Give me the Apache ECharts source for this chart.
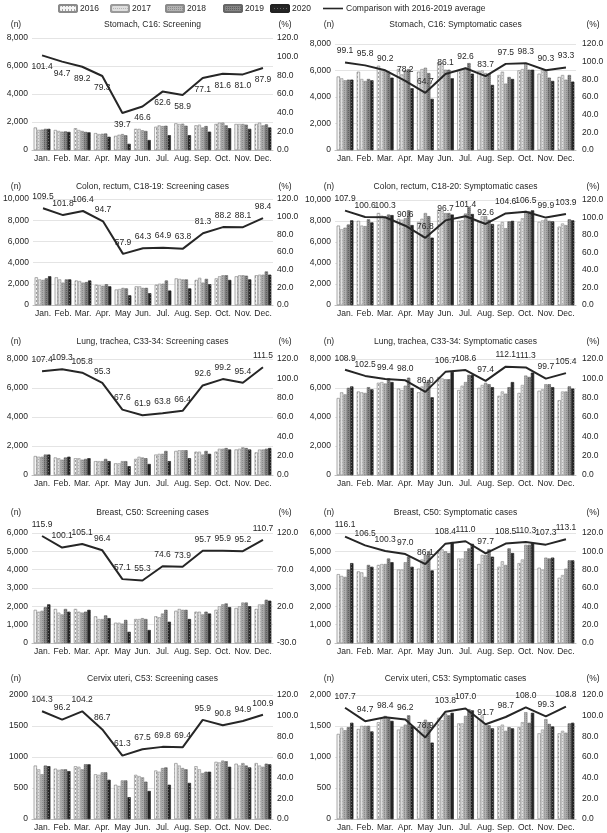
<!DOCTYPE html>
<html><head><meta charset="utf-8">
<script src="https://cdn.jsdelivr.net/npm/echarts@6/dist/echarts.min.js"></script>
<style>html,body{margin:0;padding:0;background:#fff}#c{width:607px;height:833px}</style>
</head><body><div id="c"></div>
<script>
const months = ['Jan.','Feb.','Mar.','Apr.','May','Jun.','Jul.','Aug.','Sep.','Oct.','Nov.','Dec.'];
const years = ['2016','2017','2018','2019','2020'];
const lineName = 'Comparison with 2016-2019 average';

// Stomach, C16: Screening (rows = 2016..2020)
const stomachScrBars = [
  [1600,1420,1550,1200,1000,1500,1650,1900,1750,1850,1850,1850],
  [1430,1350,1420,1130,1080,1500,1750,1850,1800,1950,1850,1950],
  [1450,1300,1350,1150,1130,1400,1700,1870,1600,1950,1850,1750],
  [1500,1320,1280,1170,1050,1350,1720,1720,1700,1750,1800,1820],
  [1500,1280,1250, 930, 430, 700,1050,1050,1300,1550,1500,1600]
];
const stomachScrPct = [101.4,94.7,89.2,79.3,39.7,46.6,62.6,58.9,77.1,81.6,81.0,87.9];

// Stomach, C16: Symptomatic cases
const stomachSymBars = [
  [5540,5900,6350,6100,5900,6600,6000,5950,5650,6000,5750,5500],
  [5400,5350,6000,5700,6100,6550,6050,6000,5900,6100,6000,5650],
  [5250,5200,6000,6000,6200,6050,6200,5800,5000,6500,5950,5300],
  [5300,5350,5900,6100,5800,6050,6550,5750,5500,6050,5450,5650],
  [5300,5250,5450,4650,3850,5400,5750,4900,5350,6050,5200,5150]
];
const stomachSymPct = [99.1,95.8,90.2,78.2,64.7,86.1,92.6,83.7,97.5,98.3,90.3,93.3];

// Colon, rectum, C18-19: Screening cases
const colonScrBars = [
  [2600,2600,2300,1900,1450,1750,1900,2500,2350,2500,2700,2800],
  [2400,2400,2250,1850,1500,1750,2000,2450,2550,2700,2800,2850],
  [2350,2100,2100,1800,1600,1600,2000,2400,2100,2800,2800,2850],
  [2500,2400,2150,1950,1550,1600,2300,2400,2450,2800,2750,3150],
  [2700,2400,2300,1750, 900,1100,1350,1550,1950,2350,2400,2850]
];
const colonScrPct = [109.5,101.8,106.4,94.7,57.9,64.3,64.9,63.8,81.3,88.2,88.1,98.4];

// Colon, rectum, C18-20: Symptomatic cases
const colonSymBars = [
  [7550,8000,8750,8200,7900,9050,8000,7900,7650,7900,7900,7450],
  [7200,7550,8500,8100,8200,8950,8050,8450,7900,8250,8050,7750],
  [7350,7500,8400,8250,8750,8750,8700,8450,7300,8950,8150,7600],
  [7650,8150,8600,9000,8450,8750,9300,8100,7950,8900,8000,8150],
  [8050,7850,8550,7600,6400,8600,8650,7700,8000,9000,7950,8050]
];
const colonSymPct = [107.9,100.6,100.3,90.6,76.8,96.7,101.4,92.6,104.6,106.5,99.9,103.9];

// Lung, trachea, C33-34: Screening cases
const lungScrBars = [
  [1300,1200,1150, 950, 800,1100,1400,1650,1600,1600,1750,1550],
  [1250,1150,1150, 950, 800,1250,1450,1700,1600,1800,1800,1750],
  [1250,1050,1050, 950, 950,1200,1450,1700,1400,1800,1900,1750],
  [1400,1200,1100,1100, 950,1150,1650,1700,1650,1850,1850,1800],
  [1400,1250,1150, 950, 600, 750, 950,1150,1450,1750,1750,1850]
];
const lungScrPct = [107.4,109.3,105.8,95.3,67.6,61.9,63.8,66.4,92.6,99.2,95.4,111.5];

// Lung, trachea, C33-34: Symptomatic cases
const lungSymBars = [
  [5300,5750,6350,5950,5700,6750,5850,6000,5450,5650,5800,5150],
  [5700,5700,6400,5850,6100,6650,6150,6200,5750,6200,5900,5750],
  [5550,5650,6300,6150,6400,6600,6400,6350,5600,6850,6250,5750],
  [6000,6050,6650,6700,6550,6600,6900,6250,6050,6750,6250,6100],
  [6100,5900,6400,6000,5350,7100,6900,6050,6400,7050,6050,5950]
];
const lungSymPct = [108.9,102.5,99.4,98.0,86.0,106.7,108.6,97.4,112.1,111.3,99.7,105.4];

// Breast, C50: Screening cases
const breastScrBars = [
  [1800,1850,1850,1450,1100,1300,1450,1750,1700,1800,1900,1850],
  [1700,1650,1700,1300,1100,1300,1400,1850,1700,2000,2000,2100],
  [1750,1550,1650,1300,1050,1350,1600,1800,1550,2100,2200,2100],
  [1950,1850,1700,1500,1250,1300,1800,1800,1700,2150,2200,2350],
  [2100,1700,1800,1350, 600, 700,1150,1300,1600,1950,2000,2300]
];
const breastScrPct = [115.9,100.1,105.1,96.4,57.1,55.3,74.6,73.9,95.7,95.9,95.2,110.7];

// Breast, C50: Symptomatic cases
const breastSymBars = [
  [3750,3900,4250,4000,4050,5050,4600,4300,4150,4350,4100,3550],
  [3650,3850,4300,4000,4550,5100,4600,4800,4450,4550,4000,3700],
  [3600,3600,4300,4400,4800,5000,5000,4800,4250,5350,4650,4050],
  [4000,4250,4600,4700,5000,4900,5150,5100,5150,5350,4600,4500],
  [4350,4150,4400,4150,3950,5500,5400,4700,4900,5450,4650,4500]
];
const breastSymPct = [116.1,106.5,100.3,97.0,86.1,108.4,111.0,97.7,108.5,110.3,107.3,113.1];

// Cervix uteri, C53: Screening cases
const cervixScrBars = [
  [860,810,850,720,550,710,780,900,850,920,890,900],
  [800,790,840,710,530,690,760,860,800,910,860,860],
  [720,800,800,750,620,670,820,820,740,940,900,840],
  [860,800,880,750,620,600,830,800,760,930,860,890],
  [850,770,880,630,350,450,550,580,760,840,830,880]
];
const cervixScrPct = [104.3,96.2,104.2,86.7,61.3,67.5,69.8,69.4,95.9,90.8,94.9,100.9];

// Cervix uteri, C53: Symptomatic cases
const cervixSymBars = [
  [1370,1450,1560,1440,1480,1630,1540,1610,1490,1480,1380,1380],
  [1470,1500,1620,1480,1530,1590,1540,1670,1520,1560,1440,1420],
  [1430,1500,1660,1520,1600,1700,1660,1530,1420,1720,1610,1390],
  [1480,1500,1620,1670,1560,1670,1770,1510,1480,1550,1530,1540],
  [1550,1410,1580,1500,1230,1710,1750,1460,1460,1710,1490,1550]
];
const cervixSymPct = [107.7,94.7,98.4,96.2,78.9,103.8,107.0,91.7,98.7,108.0,99.3,108.8];

// ---------- layout / style ----------
const panels = [
  {title:'Stomach, C16: Screening', bars:stomachScrBars, pct:stomachScrPct, max:8000, itv:2000, rmin:0, rmax:120, ritv:20, col:0, top:38, bot:150, ty:25, lpos:'bottom', comma:true, pctTitle:true},
  {title:'Stomach, C16: Symptomatic cases', bars:stomachSymBars, pct:stomachSymPct, max:8000, itv:2000, rmin:0, rmax:120, ritv:20, col:1, top:44, bot:150, ty:25, lpos:'top', comma:true, pctTitle:true},
  {title:'Colon, rectum, C18-19: Screening cases', bars:colonScrBars, pct:colonScrPct, max:10000, itv:2000, rmin:0, rmax:120, ritv:20, col:0, top:199, bot:305, ty:187, lpos:'top', comma:true, pctTitle:true},
  {title:'Colon, rectum, C18-20: Symptomatic cases', bars:colonSymBars, pct:colonSymPct, max:10000, itv:2000, rmin:0, rmax:120, ritv:20, col:1, top:200, bot:305, ty:187, lpos:'top', comma:true, pctTitle:true},
  {title:'Lung, trachea, C33-34: Screening cases', bars:lungScrBars, pct:lungScrPct, max:8000, itv:2000, rmin:0, rmax:120, ritv:20, col:0, top:359, bot:475, ty:342, lpos:'top', comma:true, pctTitle:true},
  {title:'Lung, trachea, C33-34: Symptomatic cases', bars:lungSymBars, pct:lungSymPct, max:8000, itv:2000, rmin:0, rmax:120, ritv:20, col:1, top:359, bot:475, ty:342, lpos:'top', comma:true, pctTitle:true},
  {title:'Breast, C50: Screening cases', bars:breastScrBars, pct:breastScrPct, max:6000, itv:1000, rmin:-30, rmax:120, ritv:50, col:0, top:533, bot:643, ty:513, lpos:'top', comma:true, pctTitle:true},
  {title:'Breast, C50: Symptomatic cases', bars:breastSymBars, pct:breastSymPct, max:6000, itv:1000, rmin:0, rmax:120, ritv:20, col:1, top:533, bot:643, ty:513, lpos:'top', comma:true, pctTitle:true},
  {title:'Cervix uteri, C53: Screening cases', bars:cervixScrBars, pct:cervixScrPct, max:2000, itv:500, rmin:0, rmax:120, ritv:20, col:0, top:695, bot:819, ty:679, lpos:'top', comma:false, pctTitle:false},
  {title:'Cervix uteri, C53: Symptomatic cases', bars:cervixSymBars, pct:cervixSymPct, max:2000, itv:500, rmin:0, rmax:120, ritv:20, col:1, top:695, bot:819, ty:679, lpos:'top', comma:true, pctTitle:true}
];
const colLeft = [32, 335];
const plotW = 241;
const barColors = ['#f4f4f4','#dedede','#b2b2b2','#858585','#262626'];
const barBorders = ['#8a8a8a','#9a9a9a','#8a8a8a','#666666','#222222'];
const barDecals = [
  {symbol:'rect', symbolSize:1, color:'#a0a0a0', dashArrayX:[1,2], dashArrayY:[2,2]},
  {symbol:'rect', symbolSize:1, color:'#b4b4b4', dashArrayX:[1,1], dashArrayY:[1,2]},
  {symbol:'rect', symbolSize:1, color:'#8c8c8c', dashArrayX:[1,1], dashArrayY:[1,1]},
  {symbol:'rect', symbolSize:1, color:'#5e5e5e', dashArrayX:[1,1], dashArrayY:[1,1]},
  {symbol:'rect', symbolSize:1, color:'#6a6a6a', dashArrayX:[1,2], dashArrayY:[1,2]}
];
const FONT = 'Liberation Sans, Arial, sans-serif';
const txt = '#262626';

const grid = [], xAxis = [], yAxis = [], series = [], graphic = [];
panels.forEach((p, i) => {
  const left = colLeft[p.col];
  grid.push({left: left, width: plotW, top: p.top, height: p.bot - p.top});
  xAxis.push({type:'category', gridIndex:i, data:months,
    axisTick:{show:false}, axisLine:{lineStyle:{color:'#bdbdbd', width:1}},
    axisLabel:{interval:0, fontSize:8.5, fontFamily:FONT, color:txt, margin:4}});
  yAxis.push({type:'value', gridIndex:i, min:0, max:p.max, interval:p.itv,
    axisLine:{show:false}, axisTick:{show:false},
    splitLine:{lineStyle:{color:'#e4e4e4', width:1}},
    axisLabel:{fontSize:8.5, fontFamily:FONT, color:txt, margin:4,
      formatter: v => p.comma ? v.toLocaleString('en-US') : String(v)}});
  yAxis.push({type:'value', gridIndex:i, position:'right', min:p.rmin, max:p.rmax, interval:p.ritv,
    axisLine:{show:false}, axisTick:{show:false}, splitLine:{show:false},
    axisLabel:{fontSize:8.5, fontFamily:FONT, color:txt, margin: p.col === 0 ? 4 : 6,
      formatter: v => v.toFixed(1)}});
  years.forEach((y, k) => {
    series.push({name:y, type:'bar', xAxisIndex:i, yAxisIndex:2*i, data:p.bars[k],
      barGap:'12%', barCategoryGap:'18%',
      itemStyle:{color:barColors[k], borderColor:barBorders[k], borderWidth:0.4, decal:barDecals[k]},
      emphasis:{disabled:true}, z:2});
  });
  series.push({name:lineName, type:'line', xAxisIndex:i, yAxisIndex:2*i+1, data:p.pct,
    symbol:'circle', symbolSize:0.1, showSymbol:true, showAllSymbol:true,
    itemStyle:{color:'#262626', opacity:0},
    lineStyle:{color:'#262626', width:2, opacity:1}, z:5,
    emphasis:{disabled:true},
    labelLayout:{hideOverlap:false},
    label:{show:true, position:p.lpos, distance:7, fontSize:8.5, fontFamily:FONT, color:txt, opacity:1,
      formatter: o => Number(o.value).toFixed(1)}});
  const cx = left + plotW/2;
  graphic.push({type:'text', x:cx, y:p.ty, style:{text:p.title, fontSize:8.5, fontFamily:FONT, fill:txt, textAlign:'center', textVerticalAlign:'middle'}});
  graphic.push({type:'text', x: p.col === 0 ? 16 : 329, y:p.ty, style:{text:'(n)', fontSize:8.5, fontFamily:FONT, fill:txt, textAlign:'center', textVerticalAlign:'middle'}});
  if (p.pctTitle) graphic.push({type:'text', x: p.col === 0 ? 285 : 593, y:p.ty, style:{text:'(%)', fontSize:8.5, fontFamily:FONT, fill:txt, textAlign:'center', textVerticalAlign:'middle'}});
});

const legendLefts = [58, 110, 165, 223, 270, 323];
const legend = years.map((n, k) => ({
  data:[n], left:legendLefts[k], top:4, itemWidth:18, itemHeight:7,
  textStyle:{fontSize:8.5, fontFamily:FONT, color:txt, padding:[0,0,0,-2]}, padding:0, selectedMode:false
}));
legend.push({
  data:[{name:lineName, icon:'rect', itemStyle:{color:'#262626', opacity:1, borderWidth:0, decal:'none'}}],
  left:legendLefts[5], top:4, itemWidth:20, itemHeight:1.6,
  textStyle:{fontSize:8.5, fontFamily:FONT, color:txt, padding:[0,0,0,-2]}, padding:0, selectedMode:false
});

const chart = echarts.init(document.getElementById('c'), null, {renderer:'canvas'});
chart.setOption({
  animation:false, backgroundColor:'#fff',
  legend, grid, xAxis, yAxis, series, graphic
});
</script></body></html>
